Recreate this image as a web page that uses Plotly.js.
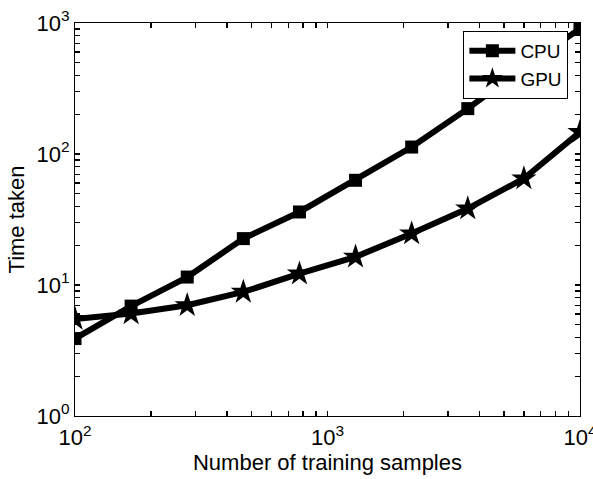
<!DOCTYPE html>
<html>
<head>
<meta charset="utf-8">
<script src="https://cdn.plot.ly/plotly-3.0.1.min.js"></script>
<style>html,body{margin:0;padding:0;background:#fff;}#plot{width:593px;height:479px;}</style>
</head>
<body>
<div id="plot"></div>
<script>
var samples = [100, 166.8, 278.3, 464.2, 774.3, 1291.5, 2154.4, 3593.8, 5994.8, 10000];
var cpuTime = [3.9, 6.9, 11.5, 22.6, 36.1, 63, 113, 222, 460, 906];
var gpuTime = [5.5, 6.05, 7.0, 8.85, 12.2, 16.4, 24.7, 38.3, 65, 147];

var xMajor = [100, 1000, 10000];
var xMajorText = ['10<sup>2</sup>', '10<sup>3</sup>', '10<sup>4</sup>'];
var yMajor = [1, 10, 100, 1000];
var yMajorText = ['10<sup>0</sup>', '10<sup>1</sup>', '10<sup>2</sup>', '10<sup>3</sup>'];

// major ticks get labels, minor ticks (2..9 x 10^k) get empty labels
function allTicks(majors, texts) {
  var vals = [], txt = [];
  for (var i = 0; i < majors.length; i++) {
    vals.push(majors[i]); txt.push(texts[i]);
    if (i < majors.length - 1) {
      for (var m = 2; m <= 9; m++) { vals.push(m * majors[i]); txt.push(''); }
    }
  }
  return {vals: vals, text: txt};
}

var font = 'Liberation Sans, Arial, Helvetica, sans-serif';
var xTicks = allTicks(xMajor, xMajorText);
var yTicks = allTicks(yMajor, yMajorText);

var traces = [
  {x: samples, y: cpuTime, name: 'CPU', mode: 'lines+markers', type: 'scatter',
   line: {color: '#000', width: 6},
   marker: {symbol: 'square', size: 13, color: '#000'}},
  {x: samples, y: gpuTime, name: 'GPU', mode: 'lines+markers', type: 'scatter',
   line: {color: '#000', width: 6},
   marker: {symbol: 'star', size: 19, color: '#000'}}
];

function axisBase() {
  return {
    type: 'log', showgrid: false, zeroline: false,
    showline: true, linecolor: '#000', linewidth: 1, mirror: 'allticks',
    ticks: 'inside', ticklen: 5, tickwidth: 1.2, tickcolor: '#000',
    tickmode: 'array', ticklabeloverflow: 'allow',
    tickfont: {family: font, size: 22, color: '#000'}
  };
}

var xaxis = axisBase();
xaxis.range = [2, 4];
xaxis.tickvals = xTicks.vals;
xaxis.ticktext = xTicks.text;
xaxis.ticklabelstandoff = 2;
xaxis.title = {text: 'Number of training samples', font: {family: font, size: 22, color: '#000'}, standoff: 0};

var yaxis = axisBase();
yaxis.range = [0, 3];
yaxis.tickvals = yTicks.vals;
yaxis.ticktext = yTicks.text;
yaxis.title = {text: 'Time taken', font: {family: font, size: 22, color: '#000'}, standoff: 5};

var layout = {
  width: 593, height: 479,
  margin: {l: 75, r: 13, t: 23, b: 63},
  paper_bgcolor: '#fff', plot_bgcolor: '#fff',
  showlegend: true,
  legend: {x: 0.977, y: 0.98, xanchor: 'right', yanchor: 'top',
           bgcolor: '#fff', bordercolor: '#000', borderwidth: 1,
           itemwidth: 46,
           font: {family: font, size: 19, color: '#000'}, tracegroupgap: 0},
  xaxis: xaxis, yaxis: yaxis
};

Plotly.newPlot('plot', traces, layout, {displayModeBar: false, staticPlot: true});
</script>
</body>
</html>
